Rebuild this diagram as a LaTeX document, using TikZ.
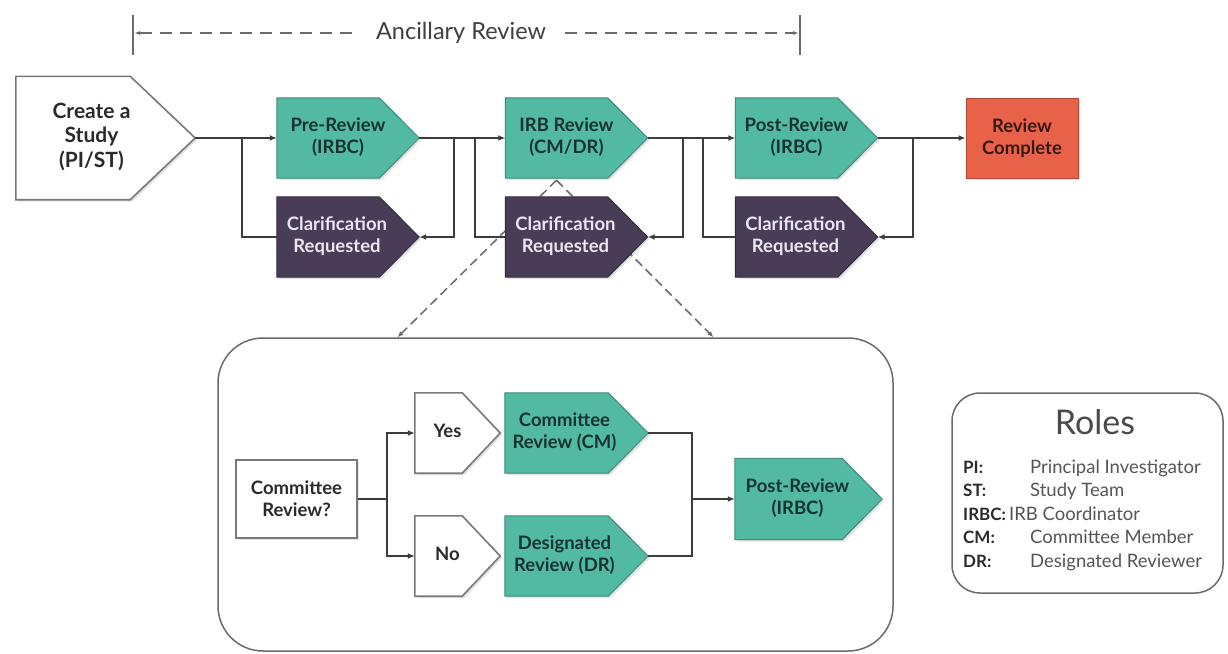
\documentclass[tikz,border=0pt]{standalone}
\usepackage{fontspec}
\setmainfont{Lato}
\usetikzlibrary{arrows.meta,shadows,calc}
\definecolor{tealf}{HTML}{52B9A3}
\definecolor{teald}{HTML}{3F8A7C}
\definecolor{tealt}{HTML}{16332F}
\definecolor{purf}{HTML}{483C56}
\definecolor{purd}{HTML}{352B40}
\definecolor{purt}{HTML}{ECE6F2}
\definecolor{redf}{HTML}{E8624A}
\definecolor{redd}{HTML}{B24A38}
\definecolor{redt}{HTML}{3A1812}
\definecolor{linec}{HTML}{3C3C3C}
\definecolor{grayc}{HTML}{6A6A6A}
\definecolor{darkt}{HTML}{2A2A2A}
\pgfdeclarelayer{bg}
\pgfdeclarelayer{shp}
\pgfsetlayers{bg,shp,main}
\newcommand\padt[2]{\begin{tabular}{@{}c@{\hspace{#1}}}#2\end{tabular}}
\newcommand\pent[3]{\path[#1] (#2.north west) -- ([xshift=-#3]#2.north east) -- (#2.east) -- ([xshift=-#3]#2.south east) -- (#2.south west) -- cycle;}
\begin{document}
\begin{tikzpicture}[x=1pt,y=-1pt,
  txt/.style={rectangle, inner sep=0pt, font=\bfseries\fontsize{18.5}{22}\selectfont},
  pbox/.style={txt, minimum width=142pt, minimum height=80pt},
  sh/.style={drop shadow={opacity=0.22, shadow xshift=2pt, shadow yshift=-2pt}},
  tealshape/.style={sh, fill=tealf, draw=teald, line width=1pt},
  purshape/.style={sh, fill=purf, draw=purd, line width=1pt},
  whiteshape/.style={sh, fill=white, draw=grayc!90, line width=1.6pt},
  conn/.style={draw=linec, line width=2.3pt},
  arr/.style={conn, -{Latex[length=7pt,width=6pt]}},
  dashc/.style={draw=grayc, line width=1.5pt, dash pattern=on 9pt off 5pt, -{Latex[length=6pt,width=5pt]}},
  ancl/.style={draw=grayc, line width=1.4pt, dash pattern=on 12pt off 8pt, -{Latex[length=6pt,width=4pt]}},
  tickc/.style={draw=grayc, line width=1.6pt}]
\useasboundingbox (0,0) rectangle (1228,653);
\begin{pgfonlayer}{bg}
\fill[white] (0,0) rectangle (1228,653);
\end{pgfonlayer}

% ---------- Ancillary review ----------
\node[inner sep=0pt, font=\fontsize{23.5}{28}\selectfont, text=darkt!90] (anc) at (461,33) {Ancillary Review};
\draw[tickc] (133,15) -- (133,55);
\draw[tickc] (800,15) -- (800,55);
\coordinate (tl) at (134,33);
\coordinate (tr) at (799,33);
\draw[ancl] ([xshift=-24pt]anc.west) -- (tl);
\draw[ancl] ([xshift=19pt]anc.east) -- (tr);

% ---------- top row nodes ----------
\node[txt, minimum width=179pt, minimum height=123pt, font=\bfseries\fontsize{21}{24.5}\selectfont, text=darkt] (create) at (105.5,138) {\padt{28pt}{Create a\\Study\\(PI/ST)}};
\node[pbox, text=tealt] (pre) at (348,138) {\padt{20pt}{Pre-Review\\(IRBC)}};
\node[pbox, text=purt] (cl1) at (348,237) {\padt{22pt}{Clarification\\Requested}};
\node[pbox, text=tealt] (irb) at (576.5,138) {\padt{20pt}{IRB Review\\(CM/DR)}};
\node[pbox, text=purt] (cl2) at (576.5,237) {\padt{22pt}{Clarification\\Requested}};
\node[pbox, text=tealt] (post) at (806.5,138) {\padt{20pt}{Post-Review\\(IRBC)}};
\node[pbox, text=purt] (cl3) at (806.5,237) {\padt{22pt}{Clarification\\Requested}};
\node[txt, minimum width=112pt, minimum height=80pt, text=redt, align=center, fill=redf, draw=redd, line width=1pt, sh] (done) at (1022,138) {Review\\Complete};

% ---------- detail box ----------
\node[draw=grayc, line width=1.5pt, rounded corners=45pt, minimum width=675pt, minimum height=313pt, inner sep=0pt] (detail) at (555.5,494.5) {};
\node[txt, minimum width=121pt, minimum height=78pt, align=center, text=darkt, fill=white, draw=grayc!90, line width=1.6pt, sh] (crq) at (296.5,499) {Committee\\Review?};
\node[txt, minimum width=85pt, minimum height=80pt, text=darkt] (yes) at (457.5,433) {\padt{20pt}{Yes}};
\node[txt, minimum width=85pt, minimum height=80pt, text=darkt] (no) at (457.5,556) {\padt{20pt}{No}};
\node[pbox, minimum width=143pt, text=tealt] (cmrev) at (576.5,433) {\padt{24pt}{Committee\\Review (CM)}};
\node[pbox, minimum width=143pt, text=tealt] (drrev) at (576.5,556) {\padt{24pt}{Designated\\Review (DR)}};
\node[pbox, minimum width=147pt, minimum height=81pt, text=tealt] (ipost) at (808.5,499) {\padt{22pt}{Post-Review\\(IRBC)}};

% ---------- roles ----------
\node[draw=grayc, line width=1.5pt, rounded corners=28pt, minimum width=271pt, minimum height=200pt, inner sep=0pt] (roles) at (1087.5,493) {};
\node[inner sep=0pt, font=\fontsize{34}{40}\selectfont, text=darkt!85] (rtitle) at (1095,422) {Roles};
\node[inner sep=0pt, anchor=west, align=left, font=\fontsize{18.5}{23.5}\selectfont, text=darkt!80] (rlist) at (963,515) {%
\makebox[67pt][l]{\fontsize{17}{23.5}\selectfont\bfseries\color{darkt}PI:}Principal Investigator\\
\makebox[67pt][l]{\fontsize{17}{23.5}\selectfont\bfseries\color{darkt}ST:}Study Team\\
{\fontsize{17}{23.5}\selectfont\bfseries\color{darkt}IRBC:}\,IRB Coordinator\\
\makebox[67pt][l]{\fontsize{17}{23.5}\selectfont\bfseries\color{darkt}CM:}Committee Member\\
\makebox[67pt][l]{\fontsize{17}{23.5}\selectfont\bfseries\color{darkt}DR:}Designated Reviewer};

% ---------- shapes ----------
\begin{pgfonlayer}{shp}
\pent{whiteshape}{create}{65pt}
\pent{tealshape}{pre}{40pt}
\pent{tealshape}{irb}{40pt}
\pent{tealshape}{post}{40pt}
\pent{purshape}{cl1}{40pt}
\pent{purshape}{cl2}{40pt}
\pent{purshape}{cl3}{40pt}
\pent{whiteshape}{yes}{38pt}
\pent{whiteshape}{no}{38pt}
\pent{tealshape}{cmrev}{40pt}
\pent{tealshape}{drrev}{40pt}
\pent{tealshape}{ipost}{40pt}
\end{pgfonlayer}

% ---------- dashed zoom lines ----------
\begin{pgfonlayer}{bg}
\coordinate (apex) at ([xshift=-20pt,yshift=-2pt]irb.south);
\draw[dashc] (apex) -- ([xshift=-158pt]detail.north);
\draw[dashc] (apex) -- ([xshift=158pt]detail.north);
\end{pgfonlayer}

% ---------- top row connectors ----------
\draw[arr] (create.east) -- (pre.west);
\draw[conn] (cl1.west) -| ([xshift=-35pt]pre.west);
\draw[arr] (pre.east) -- (irb.west);
\draw[arr] ([xshift=35pt]pre.east) |- (cl1.east);
\draw[conn] (cl2.west) -| ([xshift=-30pt]irb.west);
\draw[arr] (irb.east) -- (post.west);
\draw[arr] ([xshift=35pt]irb.east) |- (cl2.east);
\draw[conn] (cl3.west) -| ([xshift=-32pt]post.west);
\draw[arr] (post.east) -- (done.west);
\draw[arr] ([xshift=35pt]post.east) |- (cl3.east);

% ---------- detail connectors ----------
\draw[arr] (crq.east) -- ++(29pt,0) |- (yes.west);
\draw[arr] (crq.east) -- ++(29pt,0) |- (no.west);
\draw[conn] (cmrev.east) -| ([xshift=-43pt]ipost.west);
\draw[conn] (drrev.east) -| ([xshift=-43pt]ipost.west);
\draw[arr] ([xshift=-43pt]ipost.west) -- (ipost.west);
\end{tikzpicture}
\end{document}
